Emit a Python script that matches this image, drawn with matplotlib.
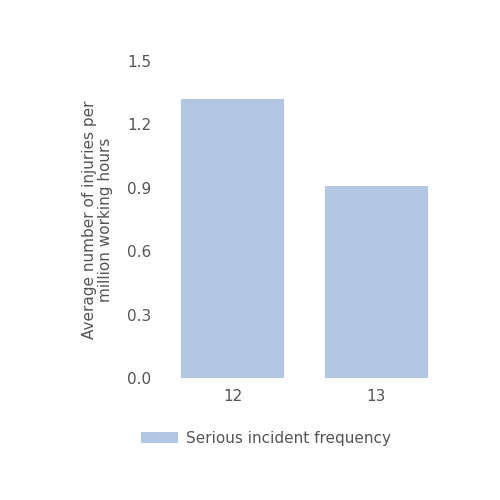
import matplotlib
matplotlib.use("Agg")
from matplotlib import pyplot as plt

years = ["12", "13"]
frequency = [1.32, 0.91]
y_ticks = [0.0, 0.3, 0.6, 0.9, 1.2, 1.5]

text_color = "#555555"
bar_color = "#b3c6e2"

fig = plt.figure(figsize=(5, 5), dpi=100)
ax = fig.add_axes([0.33, 0.244, 0.558, 0.634])

ax.bar(range(len(years)), frequency, width=0.715, color=bar_color,
       label="Serious incident frequency")
ax.set_xlim(-0.47, 1.47)
ax.set_ylim(0, 1.5)
ax.set_xticks(range(len(years)))
ax.set_xticklabels(years)
ax.set_yticks(y_ticks)
ax.set_yticklabels([f"{t:.1f}" for t in y_ticks])
ax.tick_params(length=0, labelsize=11, colors=text_color, pad=10)
ax.tick_params(axis="x", pad=8)
for s in ax.spines.values():
    s.set_visible(False)

fig.text(0.195, 0.56, "Average number of injuries per\nmillion working hours",
         rotation=90, ha="center", va="center", fontsize=11, color=text_color,
         linespacing=1.1)

fig.legend(loc="center left", bbox_to_anchor=(0.255, 0.124), frameon=False,
           fontsize=11, labelcolor=text_color, handlelength=2.4,
           handleheight=0.7, handletextpad=0.5)

fig.savefig("out.png", dpi=100)
